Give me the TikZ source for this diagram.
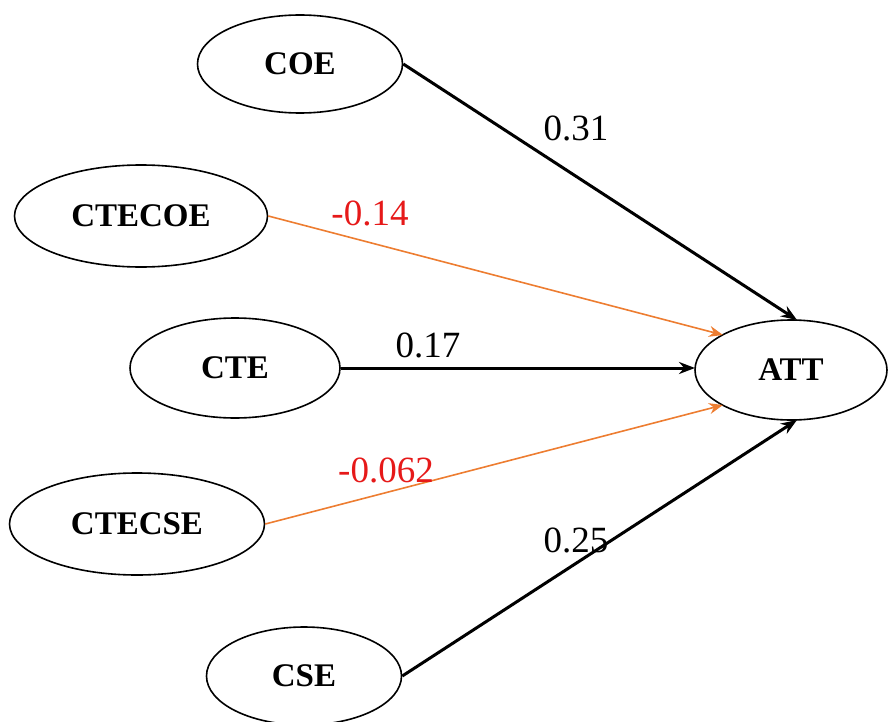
\documentclass[tikz,border=0pt]{standalone}
\usepackage{fontspec}
\setmainfont{Liberation Serif}
\usetikzlibrary{shapes.geometric,arrows.meta}
\definecolor{arrorange}{RGB}{237,125,49}
\definecolor{labred}{RGB}{230,25,25}
\begin{document}
\begin{tikzpicture}[x=1pt,y=-1pt,
  var/.style={draw,line width=1.6pt,ellipse,inner sep=0pt,font=\fontsize{33}{36}\selectfont\bfseries},
  blackarr/.style={draw,line width=3pt,-{Stealth[length=16pt,width=12pt]}},
  orangearr/.style={draw=arrorange,line width=1.6pt,-{Stealth[length=14pt,width=11pt]}},
  coef/.style={font=\fontsize{37}{40}\selectfont},
  negcoef/.style={coef,text=labred}]
\useasboundingbox (0,0) rectangle (888,722);
\node[var,minimum width=205pt,minimum height=98pt] (coe) at (300,64) {COE};
\node[var,minimum width=253pt,minimum height=102pt] (ctecoe) at (141,216) {CTECOE};
\node[var,minimum width=210pt,minimum height=100pt] (cte) at (235,368) {CTE};
\node[var,minimum width=255pt,minimum height=102pt] (ctecse) at (137,524) {CTECSE};
\node[var,minimum width=195pt,minimum height=98pt] (cse) at (304,676) {CSE};
\node[var,minimum width=192pt,minimum height=100pt] (att) at (791,370) {ATT};
\coordinate (attA) at (797,320);
\coordinate (attB) at (723,335);
\coordinate (attC) at (695,368);
\coordinate (attD) at (723,405);
\coordinate (attE) at (797,420);
\draw[blackarr] (coe.east) -- (attA);
\draw[orangearr] (ctecoe.east) -- (attB);
\draw[blackarr] (cte.east) -- (attC);
\draw[orangearr] (ctecse.east) -- (attD);
\draw[blackarr] (cse.east) -- (attE);
\node[coef] (l1) at (576,128) {0.31};
\node[negcoef] (l2) at (370,213) {-0.14};
\node[coef] (l3) at (428,345) {0.17};
\node[negcoef] (l4) at (386,470) {-0.062};
\node[coef] (l5) at (576,540) {0.25};
\end{tikzpicture}
\end{document}
